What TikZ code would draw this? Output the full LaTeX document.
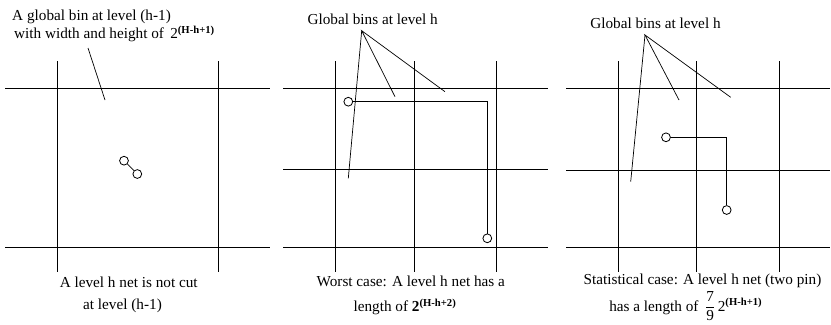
\documentclass[tikz,border=0pt]{standalone}
\usepackage{fontspec}
\setmainfont{Liberation Serif}
\usepackage{tikz}
\usetikzlibrary{positioning}

\begin{document}
\begin{tikzpicture}[
      x=0.03cm, y=-0.03cm,
      font=\fontsize{13}{15}\selectfont,
      grid/.style={line width=0.6pt},
      lead/.style={line width=0.6pt},
      pin/.style={draw, circle, inner sep=0pt, minimum size=7.5pt, line width=0.7pt},
      net/.style={line width=1.2pt},
      txt/.style={inner sep=0pt, anchor=base},
    ]
    \useasboundingbox (0,0) rectangle (831,324);

    % panel 1: bin at level (h-1)
    \draw[grid] (5,88.5) -- (270,88.5);
    \draw[grid] (5,247) -- (270,247);
    \draw[grid] (57,61) -- (57,272);
    \draw[grid] (218,61) -- (218,272);

    \node[txt, anchor=base west] (bin1) at (12,20.7) {A global bin at level (h-1)};
    \node[txt, anchor=base west] (bin1b) at (14,38.3)
      {with width and height of \,2\textsuperscript{\textbf{(H-h+1)}}};
    \coordinate (l1a) at (88,48);
    \coordinate (l1b) at (105,100);
    \draw[lead] (l1a) -- (l1b);

    \node[pin] (p1a) at (124,160.7) {};
    \node[pin] (p1b) at (137.3,174) {};
    \draw[lead] (p1a) -- (p1b);

    \node[txt] (cap1a) at (128.7,287.5) {A level h net is not cut};
    \node[txt] (cap1b) at (122.5,309) {at level (h-1)};

    % panel 2: worst case
    \draw[grid] (283,88.5) -- (548,88.5);
    \draw[grid] (283,169.5) -- (548,169.5);
    \draw[grid] (283,247) -- (548,247);
    \draw[grid] (335,61) -- (335,272);
    \draw[grid] (414,61) -- (414,272);
    \draw[grid] (496,61) -- (496,272);

    \node[txt] (bin2) at (372.7,24.5) {Global bins at level h};
    \coordinate (a2) at (361.7,30.7);
    \coordinate (e2a) at (395,96.7);
    \coordinate (e2b) at (445,91.7);
    \coordinate (e2c) at (348.3,178.3);
    \draw[lead] (e2a) -- (a2) -- (e2b);
    \draw[lead] (a2) -- (e2c);

    \node[pin] (p2a) at (348.3,101.7) {};
    \node[pin] (p2b) at (487.3,238.3) {};
    \draw[net] (p2a) -| (p2b);

    \node[txt] (cap2a) at (410.8,286.7) {Worst case: A level h net has a};
    \node[txt] (cap2b) at (405,311.5) {length of \textbf{2}\textsuperscript{\textbf{(H-h+2)}}};

    % panel 3: statistical case
    \draw[grid] (566,88.5) -- (830,88.5);
    \draw[grid] (566,170) -- (830,170);
    \draw[grid] (566,247) -- (830,247);
    \draw[grid] (618.3,61) -- (618.3,272);
    \draw[grid] (696.7,61) -- (696.7,272);
    \draw[grid] (779.3,61) -- (779.3,272);

    \node[txt] (bin3) at (655.5,28) {Global bins at level h};
    \coordinate (a3) at (645,35);
    \coordinate (e3a) at (679,100);
    \coordinate (e3b) at (730.7,97.3);
    \coordinate (e3c) at (630.7,181.7);
    \draw[lead] (e3a) -- (a3) -- (e3b);
    \draw[lead] (a3) -- (e3c);

    \node[pin] (p3a) at (666,137.3) {};
    \node[pin] (p3b) at (726.7,210) {};
    \draw[net] (p3a) -| (p3b);

    \node[txt] (cap3a) at (702.5,284.5) {Statistical case: A level h net (two pin)};
    \node[txt] (cap3b) at (685.8,311)
      {has a length of \,$\displaystyle\frac{\mbox{7}}{\mbox{9}}$\,2\textsuperscript{\textbf{(H-h+1)}}};
  \end{tikzpicture}
\end{document}
